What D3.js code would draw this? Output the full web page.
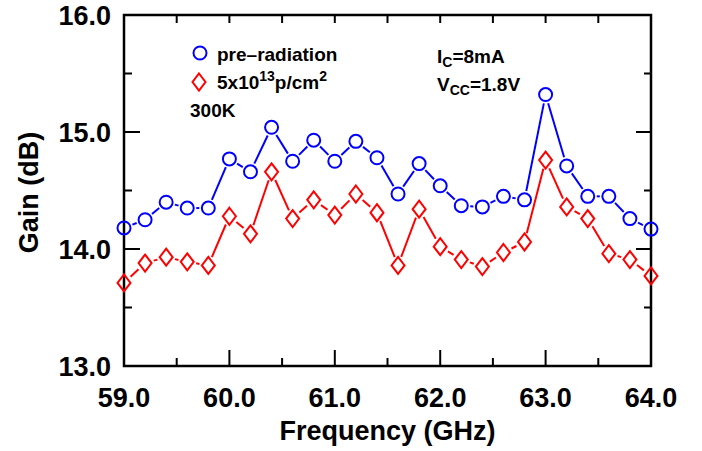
<!DOCTYPE html>
<html>
<head>
<meta charset="utf-8">
<script src="https://cdn.jsdelivr.net/npm/d3@7"></script>
<style>
  body { margin: 0; background: #fff; }
  text { font-family: "Liberation Sans", Arial, Helvetica, sans-serif; font-weight: bold; fill: #000; }
</style>
</head>
<body>
<div id="chart"></div>
<script>
var freq = [59.0, 59.2, 59.4, 59.6, 59.8, 60.0, 60.2, 60.4, 60.6, 60.8, 61.0, 61.2, 61.4,
            61.6, 61.8, 62.0, 62.2, 62.4, 62.6, 62.8, 63.0, 63.2, 63.4, 63.6, 63.8, 64.0];
var preRad = [14.18, 14.25, 14.40, 14.35, 14.35, 14.77, 14.66, 15.04, 14.75, 14.93, 14.75, 14.92, 14.78,
              14.47, 14.73, 14.54, 14.37, 14.36, 14.45, 14.42, 15.32, 14.71, 14.45, 14.45, 14.26, 14.17];
var postRad = [13.71, 13.88, 13.93, 13.89, 13.86, 14.28, 14.13, 14.66, 14.26, 14.42, 14.29, 14.47, 14.31,
               13.86, 14.34, 14.02, 13.91, 13.85, 13.97, 14.06, 14.76, 14.36, 14.26, 13.96, 13.91, 13.77];
var xTicks = [59, 60, 61, 62, 63, 64];
var yTicks = [13, 14, 15, 16];

var svg = d3.select("#chart").append("svg").attr("width", 702).attr("height", 451),
    mLeft = 124, mTop = 15,
    width = 527, height = 351;

var xScale = d3.scaleLinear().domain([59, 64]).range([0, width]);
var yScale = d3.scaleLinear().domain([13, 16]).range([height, 0]);

var g = svg.append("g").attr("transform", "translate(" + mLeft + "," + mTop + ")");

// ticks, all drawn inward
var minorX = d3.range(59, 64.01, 0.5), minorY = d3.range(13, 16.01, 0.5);
function isMajor(v) { return Math.abs(v - Math.round(v)) < 1e-6; }

minorX.forEach(function(v) {
  var L = isMajor(v) ? 16 : 8;
  g.append("line").attr("x1", xScale(v)).attr("x2", xScale(v))
   .attr("y1", height).attr("y2", height - L).attr("stroke", "#000").attr("stroke-width", 2);
  g.append("line").attr("x1", xScale(v)).attr("x2", xScale(v))
   .attr("y1", 0).attr("y2", 8).attr("stroke", "#000").attr("stroke-width", 2);
});
minorY.forEach(function(v) {
  var L = isMajor(v) ? 16 : 8;
  g.append("line").attr("x1", 0).attr("x2", L)
   .attr("y1", yScale(v)).attr("y2", yScale(v)).attr("stroke", "#000").attr("stroke-width", 2);
  g.append("line").attr("x1", width).attr("x2", width - (isMajor(v) ? 15 : 7))
   .attr("y1", yScale(v)).attr("y2", yScale(v)).attr("stroke", "#000").attr("stroke-width", 2);
});

g.append("rect").attr("x", 0).attr("y", 0).attr("width", width).attr("height", height)
 .attr("fill", "none").attr("stroke", "#000").attr("stroke-width", 2.5);

// tick labels
g.selectAll(".xlab").data(xTicks).enter().append("text")
 .attr("x", function(d) { return xScale(d); })
 .attr("y", height + 41)
 .attr("text-anchor", "middle")
 .attr("font-size", "27px")
 .text(function(d) { return d3.format(".1f")(d); });

g.selectAll(".ylab").data(yTicks).enter().append("text")
 .attr("x", -13)
 .attr("y", function(d) { return yScale(d) + 10; })
 .attr("text-anchor", "end")
 .attr("font-size", "27px")
 .text(function(d) { return d3.format(".1f")(d); });

// axis titles
svg.append("text")
   .attr("x", mLeft + width / 2).attr("y", 440)
   .attr("text-anchor", "middle").attr("font-size", "27px")
   .text("Frequency (GHz)");
svg.append("text")
   .attr("transform", "translate(38," + (mTop + height / 2 + 2) + ") rotate(-90)")
   .attr("text-anchor", "middle").attr("font-size", "27px")
   .text("Gain (dB)");

// connecting segments with gaps around markers
function drawSegments(vals, color) {
  var gap = 9;
  for (var i = 0; i < vals.length - 1; i++) {
    var x1 = xScale(freq[i]), y1 = yScale(vals[i]),
        x2 = xScale(freq[i + 1]), y2 = yScale(vals[i + 1]);
    var dx = x2 - x1, dy = y2 - y1, d = Math.sqrt(dx * dx + dy * dy);
    if (d <= 2 * gap) continue;
    var ux = dx / d, uy = dy / d;
    g.append("line")
     .attr("x1", x1 + ux * gap).attr("y1", y1 + uy * gap)
     .attr("x2", x2 - ux * gap).attr("y2", y2 - uy * gap)
     .attr("stroke", color).attr("stroke-width", 2);
  }
}
drawSegments(preRad, "#0000ff");
drawSegments(postRad, "#ff0000");

function diamond(cx, cy) {
  var hw = 6.5, hh = 8.5;
  return "M" + cx + "," + (cy - hh) + "L" + (cx + hw) + "," + cy + "L" + cx + "," + (cy + hh) +
         "L" + (cx - hw) + "," + cy + "Z";
}

g.selectAll(".pre").data(preRad).enter().append("circle")
 .attr("cx", function(d, i) { return xScale(freq[i]); })
 .attr("cy", function(d) { return yScale(d); })
 .attr("r", 6.5)
 .attr("fill", "none").attr("stroke", "#0000ff").attr("stroke-width", 2);

g.selectAll(".post").data(postRad).enter().append("path")
 .attr("d", function(d, i) { return diamond(xScale(freq[i]), yScale(d)); })
 .attr("fill", "none").attr("stroke", "#ff0000").attr("stroke-width", 2);

// legend
svg.append("circle").attr("cx", 200).attr("cy", 53).attr("r", 6.5)
   .attr("fill", "none").attr("stroke", "#0000ff").attr("stroke-width", 2);
svg.append("text").attr("x", 217).attr("y", 61).attr("font-size", "19px").text("pre\u2013radiation");

svg.append("path").attr("d", diamond(199, 82))
   .attr("fill", "none").attr("stroke", "#ff0000").attr("stroke-width", 2);
var t2 = svg.append("text").attr("x", 217).attr("y", 89).attr("font-size", "19px");
t2.append("tspan").text("5x10");
t2.append("tspan").attr("font-size", "14px").attr("dy", -8).text("13");
t2.append("tspan").attr("dy", 8).text("p/cm");
t2.append("tspan").attr("font-size", "14px").attr("dy", -8).text("2");

svg.append("text").attr("x", 190).attr("y", 117).attr("font-size", "19px").text("300K");

var t3 = svg.append("text").attr("x", 437).attr("y", 63).attr("font-size", "19px");
t3.append("tspan").text("I");
t3.append("tspan").attr("font-size", "14px").attr("dy", 4).text("C");
t3.append("tspan").attr("dy", -4).text("=8mA");

var t4 = svg.append("text").attr("x", 437).attr("y", 91).attr("font-size", "19px");
t4.append("tspan").text("V");
t4.append("tspan").attr("font-size", "14px").attr("dy", 4).text("CC");
t4.append("tspan").attr("dy", -4).text("=1.8V");
</script>
</body>
</html>
